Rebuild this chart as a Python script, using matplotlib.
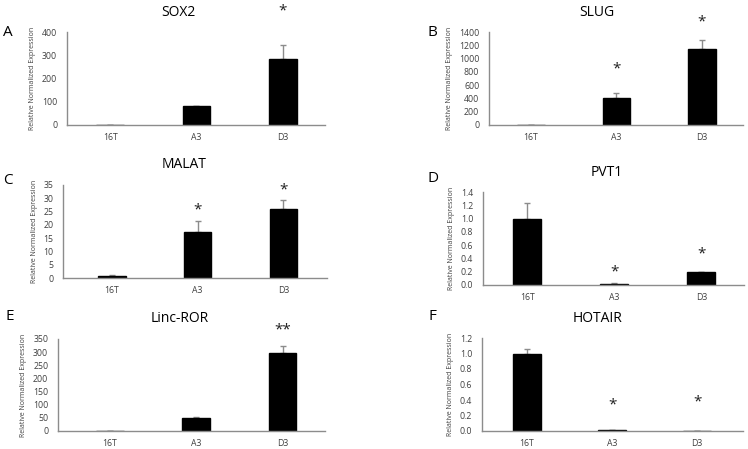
import numpy as np
import matplotlib
matplotlib.use('Agg')
import matplotlib.pyplot as plt

plt.rcParams['font.family'] = ['Open Sans', 'DejaVu Sans']

groups = ['16T', 'A3', 'D3']

titles = ['SOX2', 'SLUG', 'MALAT', 'PVT1', 'Linc-ROR', 'HOTAIR']
letters = ['A', 'B', 'C', 'D', 'E', 'F']

sox2 = [1, 80, 282]
sox2_err = [0.5, 3, 62]
sox2_stars = ['', '', '*']
sox2_star_y = [0, 0, 490]

slug = [1, 410, 1140]
slug_err = [0.5, 70, 140]
slug_stars = ['', '*', '*']
slug_star_y = [0, 843, 1550]

malat = [0.9, 17.5, 26]
malat_err = [0.2, 4, 3.5]
malat_stars = ['', '*', '*']
malat_star_y = [0, 25.6, 33]

pvt1 = [1.0, 0.02, 0.19]
pvt1_err = [0.23, 0.003, 0.005]
pvt1_stars = ['', '*', '*']
pvt1_star_y = [0, 0.2, 0.47]

lincror = [1, 50, 295]
lincror_err = [0.5, 2, 30]
lincror_stars = ['', '', '**']
lincror_star_y = [0, 0, 384]

hotair = [1.0, 0.015, 0.005]
hotair_err = [0.06, 0.002, 0.001]
hotair_stars = ['', '*', '*']
hotair_star_y = [0, 0.335, 0.37]

values = [sox2, slug, malat, pvt1, lincror, hotair]
errors = [sox2_err, slug_err, malat_err, pvt1_err, lincror_err, hotair_err]
stars = [sox2_stars, slug_stars, malat_stars, pvt1_stars, lincror_stars, hotair_stars]
star_ys = [sox2_star_y, slug_star_y, malat_star_y, pvt1_star_y, lincror_star_y, hotair_star_y]

ymax = [400, 1400, 35, 1.4, 350, 1.2]
ystep = [100, 200, 5, 0.2, 50, 0.2]
yfmt = ['{:.0f}', '{:.0f}', '{:.0f}', '{:.1f}', '{:.0f}', '{:.1f}']

# pixel layout: left, right, bottom, top of each plot area
W, H = 748, 449
boxes = [(67, 325, 125, 32), (489, 743, 125, 32),
         (63, 327, 278, 185), (483, 744, 285, 192),
         (58, 325, 431, 339), (482, 743, 431, 338)]
xlims = [(-0.5, 2.49), (-0.49, 2.48), (-0.57, 2.51),
         (-0.51, 2.49), (-0.6, 2.49), (-0.53, 2.54)]
# title positions and panel letters (pixels)
title_pos = [(178, 13), (597, 12), (184, 165), (607, 173), (180, 318), (597, 318)]
letter_pos = [(8, 33), (432, 33), (8, 180), (433, 178), (10, 316), (432, 317)]

fig = plt.figure(figsize=(7.48, 4.49), dpi=100)

for i in range(6):
    l, r, b, t = boxes[i]
    ax = fig.add_axes([l / W, 1 - b / H, (r - l) / W, (b - t) / H])
    x = np.arange(len(groups))
    ax.bar(x, values[i], width=0.32, color='black', edgecolor='black', zorder=2)
    ax.errorbar(x, values[i], yerr=[np.zeros(3), errors[i]], fmt='none',
                ecolor='#8c8c8c', elinewidth=1, capsize=2.5, capthick=1, zorder=1)
    for j in range(3):
        if stars[i][j]:
            ax.text(x[j], star_ys[i][j], stars[i][j], ha='center', va='center',
                    fontsize=11, clip_on=False, color='#202020')
    ax.set_xlim(*xlims[i])
    ax.set_ylim(0, ymax[i])
    ticks = np.arange(0, ymax[i] + ystep[i] / 2, ystep[i])
    ax.set_yticks(ticks)
    ax.set_yticklabels([yfmt[i].format(v) for v in ticks])
    ax.set_xticks(x)
    ax.set_xticklabels(groups)
    ax.tick_params(length=0, labelsize=6.3, colors='#404040')
    ax.tick_params(axis='y', pad=7)
    ax.tick_params(axis='x', pad=6)
    for s in ['top', 'right']:
        ax.spines[s].set_visible(False)
    for s in ['left', 'bottom']:
        ax.spines[s].set_color('#8c8c8c')
        ax.spines[s].set_linewidth(1)
    ax.set_ylabel('Relative Normalized Expression', fontsize=5, color='#404040',
                  labelpad=4)

    tx, ty = title_pos[i]
    fig.text(tx / W, 1 - ty / H, titles[i], ha='center', va='center', fontsize=10)
    lx, ly = letter_pos[i]
    fig.text(lx / W, 1 - ly / H, letters[i], ha='center', va='center', fontsize=11)

fig.savefig('out.png', dpi=100)
